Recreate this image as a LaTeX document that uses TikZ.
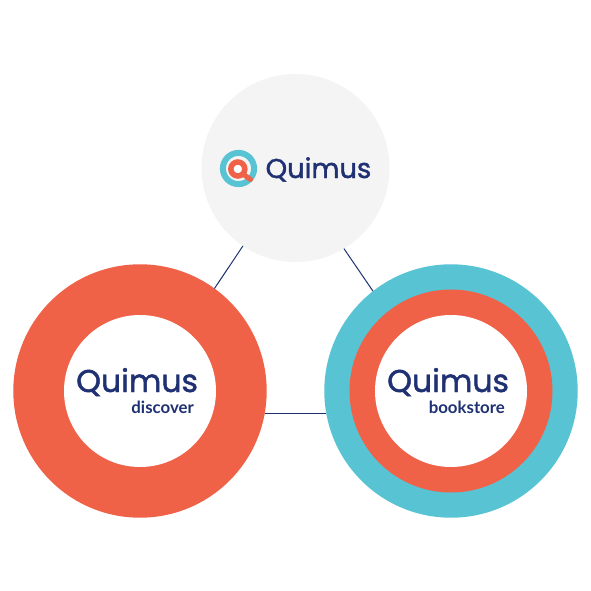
\documentclass[tikz,border=0pt]{standalone}
\usepackage{fontspec}
\setmainfont{Lato}
\newfontfamily\logofont[FakeBold=1.5]{Poppins}
\definecolor{navy}{HTML}{1F3172}
\definecolor{coral}{HTML}{F06248}
\definecolor{teal}{HTML}{58C3D3}
\definecolor{pale}{HTML}{F4F4F4}
\tikzset{
  x=1pt,y=-1pt,
  disc/.style={circle,inner sep=0pt,outer sep=0pt,minimum size=#1*2pt},
  link/.style={draw=navy,line width=1pt},
  wordmark/.style={text=navy,font=\logofont\fontsize{#1}{#1}\selectfont,inner sep=0pt},
  sublabel/.style={text=navy,font=\bfseries\fontsize{16.8}{16.8}\selectfont,inner sep=0pt}
}
\begin{document}
\begin{tikzpicture}
\useasboundingbox (0,0) rectangle (591,591);
\fill[white] (0,0) rectangle (591,591);
\node[disc=94,fill=pale] (top) at (295.5,168) {};
\node[disc=126.7,fill=coral] (left) at (140,391) {};
\node[disc=76,fill=white] (leftin) at (140,391) {};
\node[disc=126.7,fill=teal] (right) at (451,391) {};
\node[disc=101.5,fill=coral] (rightmid) at (451,391) {};
\node[disc=76,fill=white] (rightin) at (451,391) {};
\draw[link] (top.236) -- (left.54);
\draw[link] (top.301) -- (right.128);
\draw[link] (left.-10.6) -- (right.190.6);
% logo icon
\node[disc=15.6,draw=teal,line width=6pt] (iconouter) at (238.5,168.5) {};
\node[disc=7,draw=coral,fill=white,line width=5.5pt] (iconinner) at (237.8,169) {};
\coordinate (handleend) at (250.5,179.5);
\draw[coral,line width=5pt,line cap=round] (iconinner.-45) -- (handleend);
\node[wordmark=27.3,anchor=base west] (w1) at (265.5,178) {Quimus};
\node[wordmark=31.5,anchor=base west] (w2) at (76,392) {Quimus};
\node[wordmark=31.5,anchor=base west] (w3) at (387,392) {Quimus};
\node[sublabel,anchor=base east] (s1) at (194,413.5) {discover};
\node[sublabel,anchor=base east] (s2) at (505,413.5) {bookstore};
\end{tikzpicture}
\end{document}
